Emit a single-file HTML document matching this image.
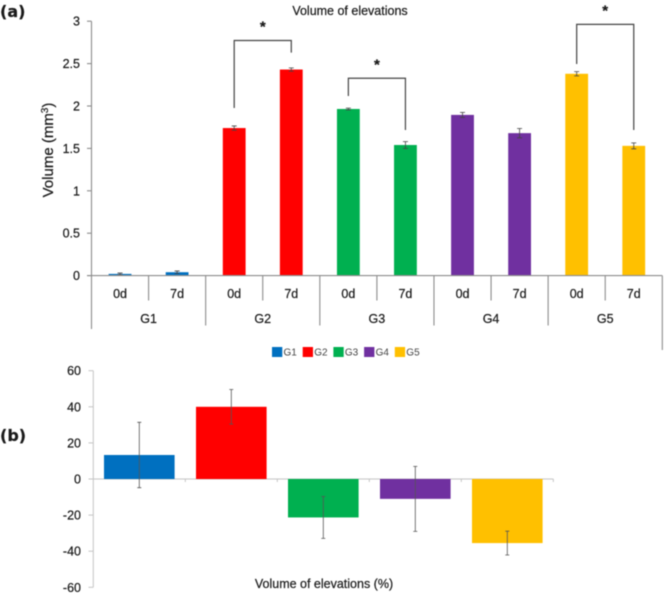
<!DOCTYPE html>
<html lang="en">
<head>
<meta charset="utf-8">
<title>Volume of elevations</title>
<style>
html,body{margin:0;padding:0;background:#fff;width:665px;height:595px;overflow:hidden}
svg{display:block;filter:blur(.45px)}
text{font-family:"Liberation Sans",sans-serif;fill:#1a1a1a;stroke:#1a1a1a;stroke-width:.22px}
</style>
</head>
<body>
<svg id="figure" xmlns="http://www.w3.org/2000/svg" width="665" height="595" viewBox="0 0 665 595">
  <text x="0" y="17" style="font:bold 16px 'DejaVu Sans',sans-serif">(a)</text>
  <text x="0" y="441" style="font:bold 16px 'DejaVu Sans',sans-serif">(b)</text>
  <text x="350" y="15" font-size="12.5" text-anchor="middle">Volume of elevations</text>
  <text transform="translate(53,150) rotate(-90)" font-size="15" text-anchor="middle">Volume (mm<tspan dy="-5" font-size="10">3</tspan><tspan dy="5">)</tspan></text>
  <text x="324" y="588" font-size="12.5" text-anchor="middle">Volume of elevations (%)</text>
  <g id="top-chart"></g>
  <g id="legend"></g>
  <g id="bottom-chart"></g>
</svg>
<script>
const groups = ["G1", "G2", "G3", "G4", "G5"];
const timepoints = ["0d", "7d"];
const groupColors = ["#0070C0", "#FF0000", "#00B050", "#7030A0", "#FFC000"];
const volumeDay0 = [0.02, 1.74, 1.965, 1.895, 2.38];
const volumeDay7 = [0.04, 2.43, 1.54, 1.68, 1.53];
const errorDay0 = [0.01, 0.025, 0.01, 0.03, 0.025];
const errorDay7 = [0.015, 0.02, 0.04, 0.055, 0.035];
const volumeTicks = [0, 0.5, 1, 1.5, 2, 2.5, 3];
const changeValues = [13.3, 40, -21.3, -11, -35.5];
const changeErrors = [18.1, 9.6, 11.6, 18, 6.6];
const changeTicks = [-60, -40, -20, 0, 20, 40, 60];
const bracketGroups = [1, 2, 4];
const bracketStart = [1.976, 2.118, 2.495];
const bracketTop = [2.772, 2.327, 2.963];
const bracketEnd = [2.63, 1.717, 1.717];

const NS = "http://www.w3.org/2000/svg";
function make(parent, tag, attrs, text) {
  const el = document.createElementNS(NS, tag);
  for (const k in attrs) el.setAttribute(k, attrs[k]);
  if (text !== undefined) el.textContent = text;
  parent.appendChild(el);
  return el;
}

/* top chart axes */
const yTop = v => 275.6 - v * 84.8;
const catStep = 57.08;
const catX = i => 91.5 + i * catStep;
const barCenter = (g, t) => catX(g * 2 + t) + catStep / 2;
const topChart = document.getElementById("top-chart");
const axisGrey = "#8c8c8c";

let el = make(topChart, "line", {x1: 91.5, x2: 91.5, y1: yTop(3), y2: 329, stroke: axisGrey, "stroke-width": 1.1});



volumeTicks.forEach(v => {
  const t = make(topChart, "line", {x1: 87, x2: 91.5, y1: yTop(v), y2: yTop(v), stroke: axisGrey, "stroke-width": 1.1});
  
  
  const l = make(topChart, "text", {x: 80, y: yTop(v) + 4.5, "font-size": 12.5, "text-anchor": "end"}, String(v));
  
  
});

groups.forEach((g, i) => {
  [volumeDay0, volumeDay7].forEach((series, t) => {
    const errs = t === 0 ? errorDay0 : errorDay7;
    const cx = barCenter(i, t);
    const bar = make(topChart, "rect", {x: cx - 11.4, y: yTop(series[i]), width: 22.8, height: yTop(0) - yTop(series[i]), fill: groupColors[i]});
    
    
    const hi = yTop(series[i] + errs[i]);
    const lo = yTop(series[i] - errs[i]);
    const err = make(topChart, "path", {d: `M${cx - 2.5} ${hi}H${cx + 2.5}M${cx} ${hi}V${lo}M${cx - 2.5} ${lo}H${cx + 2.5}`, fill: "none", stroke: "#444", "stroke-width": 0.8});
    
    
    const lab = make(topChart, "text", {x: cx, y: 298, "font-size": 12.5, "text-anchor": "middle"}, timepoints[t]);
    
    
  });
  const gl = make(topChart, "text", {x: catX(i * 2 + 1), y: 323, "font-size": 12.5, "text-anchor": "middle"}, g);
  
  
  const minor = make(topChart, "line", {x1: catX(i * 2 + 1), x2: catX(i * 2 + 1), y1: yTop(0), y2: 300.5, stroke: axisGrey, "stroke-width": 1.1});
  
  
  if (i > 0) {
    const major = make(topChart, "line", {x1: catX(i * 2), x2: catX(i * 2), y1: yTop(0), y2: 325.5, stroke: axisGrey, "stroke-width": 1.1});
    
    
  }
});

const lastSep = make(topChart, "line", {x1: catX(groups.length * 2), x2: catX(groups.length * 2), y1: yTop(0), y2: 350, stroke: axisGrey, "stroke-width": 1.1});



const xAxisTop = make(topChart, "line", {x1: 87, x2: catX(groups.length * 2), y1: yTop(0), y2: yTop(0), stroke: axisGrey, "stroke-width": 1.1});



bracketGroups.forEach((g, i) => {
  const x0 = barCenter(g, 0);
  const x1 = barCenter(g, 1);
  const top = yTop(bracketTop[i]);
  const br = make(topChart, "path", {d: `M${x0} ${yTop(bracketStart[i])}V${top}H${x1}V${yTop(bracketEnd[i])}`, fill: "none", stroke: "#444", "stroke-width": 1.2});
  
  
  const star = make(topChart, "text", {x: (x0 + x1) / 2, y: top - 9, "font-size": 15, "font-weight": "bold", "text-anchor": "middle"}, "*");
  
  
});

/* legend */
const legend = document.getElementById("legend");
groups.forEach((g, i) => {
  const x = 272 + i * 30.7;
  const sw = make(legend, "rect", {x: x, y: 347, width: 10.3, height: 10, fill: groupColors[i]});
  
  
  const tx = make(legend, "text", {x: x + 11.5, y: 355.5, "font-size": 10, style: "fill:#444;stroke:none"}, g);
  
  
});

/* bottom chart axes */
const yBot = v => 479 - v * 1.805;
const barStep = 92;
const botX = i => 93.3 + i * barStep;
const bottomChart = document.getElementById("bottom-chart");
const lightGrey = "#c4c4c4";

const yAxisBot = make(bottomChart, "line", {x1: 93.3, x2: 93.3, y1: yBot(60), y2: yBot(-60), stroke: lightGrey, "stroke-width": 1});



changeTicks.forEach(v => {
  const t = make(bottomChart, "line", {x1: 88.5, x2: 93.3, y1: yBot(v), y2: yBot(v), stroke: lightGrey, "stroke-width": 1});
  
  
  const l = make(bottomChart, "text", {x: 81, y: yBot(v) + 4.5, "font-size": 12.5, "text-anchor": "end"}, String(v));
  
  
});

const xAxisBot = make(bottomChart, "line", {x1: 88.5, x2: botX(groups.length), y1: yBot(0), y2: yBot(0), stroke: lightGrey, "stroke-width": 1});



groups.forEach((g, i) => {
  const tick = make(bottomChart, "line", {x1: botX(i + 1), x2: botX(i + 1), y1: yBot(0), y2: yBot(0) + 3, stroke: lightGrey, "stroke-width": 1});
  
  
  const cx = botX(i) + barStep / 2;
  const v = changeValues[i];
  const bar = make(bottomChart, "rect", {x: cx - 35.3, y: Math.min(yBot(v), yBot(0)), width: 70.6, height: Math.abs(yBot(v) - yBot(0)), fill: groupColors[i]});
  
  
  const hi = yBot(v + changeErrors[i]);
  const lo = yBot(v - changeErrors[i]);
  const err = make(bottomChart, "path", {d: `M${cx - 2} ${hi}H${cx + 2}M${cx} ${hi}V${lo}M${cx - 2} ${lo}H${cx + 2}`, fill: "none", stroke: "#555", "stroke-width": 0.8});
  
  
});
</script>
</body>
</html>
